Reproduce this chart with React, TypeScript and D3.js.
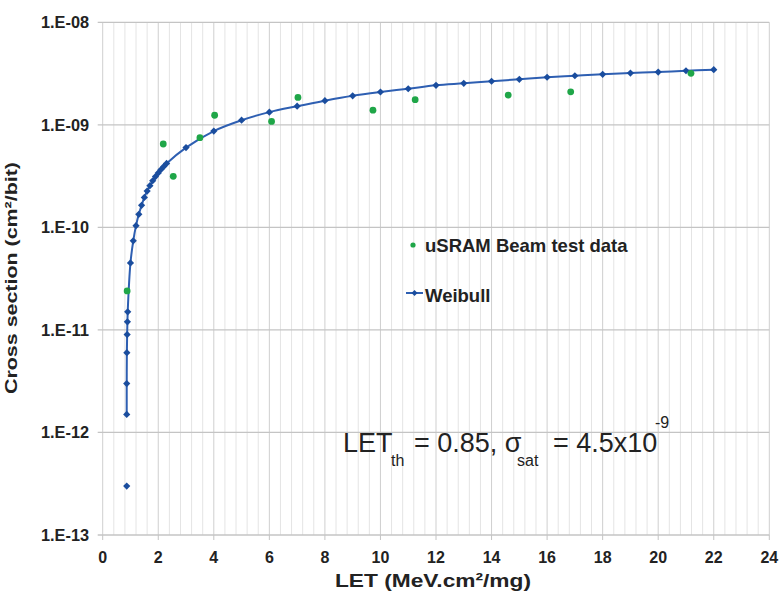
import React from "react";
import * as d3 from "d3";

const weibullLET = [0.865, 0.865, 0.865, 0.87, 0.88, 0.89, 0.9, 1.0, 1.1, 1.2, 1.3, 1.4, 1.5, 1.6, 1.7, 1.8, 1.9, 2.0, 2.1, 2.2, 2.3, 3, 4, 5, 6, 7, 8, 9, 10, 11, 12, 13, 14, 15, 16, 17, 18, 19, 20, 21, 22];
const weibullSigma = [3e-13, 1.5e-12, 3e-12, 6e-12, 9e-12, 1.2e-11, 1.5e-11, 4.5e-11, 7.4e-11, 1.04e-10, 1.34e-10, 1.64e-10, 1.96e-10, 2.26e-10, 2.55e-10, 2.85e-10, 3.13e-10, 3.4e-10, 3.67e-10, 3.93e-10, 4.2e-10, 6.0e-10, 8.7e-10, 1.11e-9, 1.33e-9, 1.52e-9, 1.72e-9, 1.92e-9, 2.09e-9, 2.25e-9, 2.43e-9, 2.54e-9, 2.66e-9, 2.78e-9, 2.91e-9, 3.01e-9, 3.11e-9, 3.2e-9, 3.27e-9, 3.37e-9, 3.45e-9];

const beamLET = [0.88, 2.18, 2.54, 3.5, 4.03, 6.08, 7.03, 9.73, 11.25, 14.6, 16.85, 21.18];
const beamSigma = [2.4e-11, 6.5e-10, 3.15e-10, 7.5e-10, 1.24e-9, 1.08e-9, 1.85e-9, 1.39e-9, 1.76e-9, 1.95e-9, 2.1e-9, 3.18e-9];

const xTicks = [0, 2, 4, 6, 8, 10, 12, 14, 16, 18, 20, 22, 24];
const yTicks = [1e-8, 1e-9, 1e-10, 1e-11, 1e-12, 1e-13];
const yTickLabels = ["1.E-08", "1.E-09", "1.E-10", "1.E-11", "1.E-12", "1.E-13"];

const FONT = "Liberation Sans, Arial, Helvetica, sans-serif";

export default function App() {
  const x = d3.scaleLinear().domain([0, 24]).range([102.7, 769.3]);
  const y = d3.scaleLog().domain([1e-13, 1e-8]).range([535, 22.3]);
  const minorX = d3.range(0, 24.0001, 0.4).map((v) => Math.round(v * 10) / 10);

  const pts: [number, number][] = weibullLET.map((l, i) => [x(l), y(weibullSigma[i])]);
  const line = d3.line().curve(d3.curveCatmullRom.alpha(0.5));
  const pathD = line(pts.slice(1)) || "";

  const diamond = (cx: number, cy: number, r: number) =>
    `M${cx},${cy - r}L${cx + r},${cy}L${cx},${cy + r}L${cx - r},${cy}Z`;

  const blueLine = "#2e5fb2";
  const blueMark = "#1a4d9e";
  const green = "#1fa648";

  return (
    <svg width={780} height={592} style={{ position: "absolute", left: 0, top: 0, background: "#fff" }}>
      <rect width={780} height={592} fill="#fff" />
      {minorX.map((v) => (
        <line key={"mx" + v} x1={x(v)} x2={x(v)} y1={y(1e-8)} y2={y(1e-13)}
          stroke={v % 2 === 0 ? "#cfcfcf" : "#e4e4e4"} strokeWidth={1} />
      ))}
      {yTicks.map((v) => (
        <line key={"gy" + v} x1={x(0) - 5} x2={x(24)} y1={y(v)} y2={y(v)} stroke="#c4c4c4" strokeWidth={1.3} />
      ))}
      {xTicks.map((v) => (
        <line key={"xt" + v} x1={x(v)} x2={x(v)} y1={y(1e-13)} y2={y(1e-13) + 5} stroke="#c4c4c4" strokeWidth={1} />
      ))}
      {xTicks.map((v) => (
        <text key={"xl" + v} x={x(v)} y={562.5} textAnchor="middle" fontFamily={FONT} fontWeight="bold" fontSize={16} fill="#222">
          {v}
        </text>
      ))}
      {yTicks.map((v, i) => (
        <text key={"yl" + v} x={89} y={y(v) + 6} textAnchor="end" fontFamily={FONT} fontWeight="bold" fontSize={16} fill="#222"
          textLength={48} lengthAdjust="spacingAndGlyphs">
          {yTickLabels[i]}
        </text>
      ))}
      <text x={433} y={587} textAnchor="middle" fontFamily={FONT} fontWeight="bold" fontSize={19} fill="#222"
        textLength={196} lengthAdjust="spacingAndGlyphs">
        LET (MeV.cm²/mg)
      </text>
      <text transform={`translate(17,278) rotate(-90)`} textAnchor="middle" fontFamily={FONT} fontWeight="bold" fontSize={17} fill="#222"
        textLength={232} lengthAdjust="spacingAndGlyphs">
        Cross section (cm²/bit)
      </text>

      <path d={pathD} fill="none" stroke={blueLine} strokeWidth={2} />
      {pts.map((p, i) => (
        <path key={"wd" + i} d={diamond(p[0], p[1], 3.6)} fill={blueMark} />
      ))}
      {beamLET.map((l, i) => (
        <circle key={"bd" + i} cx={x(l)} cy={y(beamSigma[i])} r={3.4} fill={green} />
      ))}

      <circle cx={413} cy={245} r={2.6} fill={green} />
      <text x={425} y={252} fontFamily={FONT} fontWeight="bold" fontSize={18.5} fill="#222">uSRAM Beam test data</text>
      <line x1={406} x2={423} y1={293} y2={293} stroke={blueLine} strokeWidth={2} />
      <path d={diamond(414.5, 293, 3)} fill={blueMark} />
      <text x={425} y={302} fontFamily={FONT} fontWeight="bold" fontSize={18.5} fill="#222">Weibull</text>

      <text y={452} fontFamily={FONT} fontSize={27} fill="#222">
        <tspan x={343}>LET</tspan>
        <tspan x={391} y={466} fontSize={16}>th</tspan>
        <tspan x={414} y={452}>= 0.85, σ</tspan>
        <tspan x={517} y={466} fontSize={16}>sat</tspan>
        <tspan x={553} y={452}>= 4.5x10</tspan>
        <tspan x={655} y={428} fontSize={16}>-9</tspan>
      </text>
    </svg>
  );
}
